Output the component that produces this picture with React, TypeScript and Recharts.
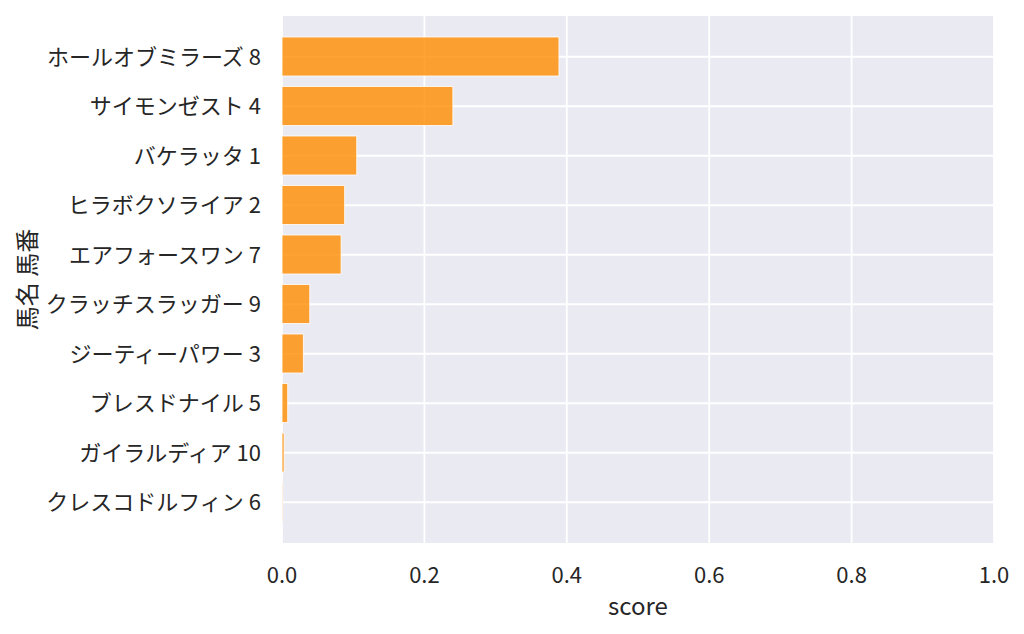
import React from 'react';
import { BarChart, Bar, XAxis, YAxis, CartesianGrid } from 'recharts';

const horseNames = [
  'ホールオブミラーズ 8',
  'サイモンゼスト 4',
  'バケラッタ 1',
  'ヒラボクソライア 2',
  'エアフォースワン 7',
  'クラッチスラッガー 9',
  'ジーティーパワー 3',
  'ブレスドナイル 5',
  'ガイラルディア 10',
  'クレスコドルフィン 6',
];
const scores = [0.389, 0.240, 0.105, 0.088, 0.083, 0.039, 0.030, 0.008, 0.003, 0.001];
const xTicks = [0, 0.2, 0.4, 0.6, 0.8, 1.0];

const data = horseNames.map((name, i) => ({ name, score: scores[i] }));

const FONT = '"Noto Sans CJK JP", "Noto Sans", sans-serif';
const TEXT = '#262626';

export default function App() {
  return (
    <div style={{ position: 'absolute', left: 0, top: 0, width: 1024, height: 634, background: '#fff' }}>
      <BarChart
        width={1024}
        height={634}
        data={data}
        layout="vertical"
        margin={{ top: 15, right: 30, bottom: 30, left: 0 }}
        barCategoryGap={0}
      >
        <CartesianGrid fill="#eaeaf2" stroke="#ffffff" strokeWidth={1.8} />
        <XAxis
          type="number"
          dataKey="score"
          domain={[0, 1]}
          ticks={xTicks}
          tickFormatter={(v: number) => v.toFixed(1)}
          axisLine={false}
          tickLine={false}
          tickMargin={17}
          height={60}
          tick={{ fill: TEXT, fontSize: 22, fontFamily: FONT }}
          label={(props: any) => {
            const vb = props.viewBox || {};
            return (
              <text
                x={vb.x + vb.width / 2}
                y={615}
                textAnchor="middle"
                fill={TEXT}
                fontSize={24}
                fontFamily={FONT}
              >
                score
              </text>
            );
          }}
        />
        <YAxis
          type="category"
          dataKey="name"
          width={282}
          axisLine={false}
          tickLine={false}
          tickMargin={15}
          interval={0}
          padding={{ top: 17, bottom: 17 }}
          tick={{ fill: TEXT, fontSize: 22, fontFamily: FONT }}
          label={(props: any) => {
            const vb = props.viewBox || {};
            const cy = vb.y + vb.height / 2;
            return (
              <text
                x={25}
                y={cy}
                transform={`rotate(-90, 25, ${cy})`}
                textAnchor="middle"
                dominantBaseline="central"
                fill={TEXT}
                fontSize={24}
                fontFamily={FONT}
              >
                馬名 馬番
              </text>
            );
          }}
        />
        <Bar
          dataKey="score"
          fill="#ff8c00"
          fillOpacity={0.8}
          stroke="#ffffff"
          strokeOpacity={0.8}
          strokeWidth={1}
          barSize={39}
          isAnimationActive={false}
        />
      </BarChart>
    </div>
  );
}
